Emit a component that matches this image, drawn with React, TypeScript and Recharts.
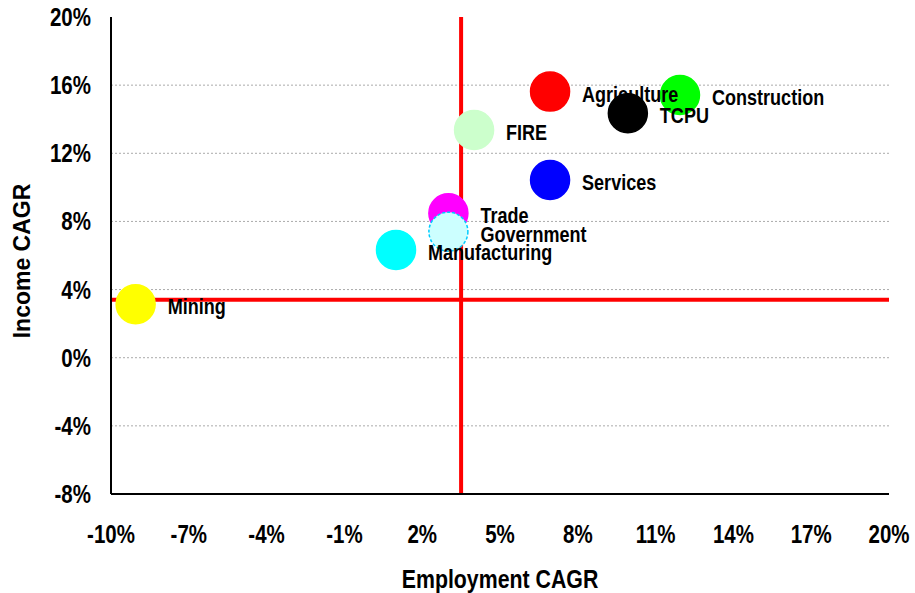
import React from "react"
import { ScatterChart, Scatter, XAxis, YAxis, CartesianGrid, ReferenceLine, LabelList, Cell } from "recharts"

const sectors = ["Mining", "Manufacturing", "Trade", "Government", "FIRE", "Services", "Agriculture", "TCPU", "Construction"]
const employmentCagr = [-9.05, 0.99, 3.01, 3.01, 4.0, 6.93, 6.93, 9.93, 11.94]
const incomeCagr = [3.14, 6.33, 8.48, 7.4, 13.37, 10.43, 15.62, 14.35, 15.42]
const fills = ["#FFFF00", "#00FFFF", "#FF00FF", "#CCFFFF", "#CCFFCC", "#0000FF", "#FF0000", "#000000", "#00FF00"]
const strokes = ["#FFFF00", "#00FFFF", "#FF00FF", "#00CCFF", "#CCFFCC", "#0000FF", "#FF0000", "#000000", "#00FF00"]

const xTicks = [-10, -7, -4, -1, 2, 5, 8, 11, 14, 17, 20]
const yTicks = [-8, -4, 0, 4, 8, 12, 16, 20]
const employmentMean = 3.5
const incomeMean = 3.4

const font = "'Liberation Sans', Arial, sans-serif"
// the original uses a narrow bold face; squeeze Liberation Sans to get close
const squeeze = "scale(0.82,1)"

const data = sectors.map((name, i) => ({
	name,
	x: employmentCagr[i],
	y: incomeCagr[i],
}))

const Dot = (props: any) => {
	const { cx, cy, fill, stroke } = props
	return <circle cx={cx} cy={cy} r={19.5} fill={fill} stroke={stroke} strokeWidth={1.5} strokeDasharray={stroke === "#00CCFF" ? "3 2" : undefined} />
}

const PointLabel = (props: any) => {
	const { x, y, width, height, value } = props
	const cx = x + width / 2
	const cy = y + height / 2
	return (
		<g transform={`translate(${cx + 32},${cy + 10})`}>
			<text transform={squeeze} fontFamily={font} fontWeight="bold" fontSize={22} fill="#000">
				{value}
			</text>
		</g>
	)
}

const XTick = (props: any) => {
	const { x, y, payload } = props
	return (
		<g transform={`translate(${x},${y + 49})`}>
			<text transform={squeeze} textAnchor="middle" fontFamily={font} fontWeight="bold" fontSize={25} fill="#000">
				{`${payload.value}%`}
			</text>
		</g>
	)
}

const YTick = (props: any) => {
	const { x, y, payload } = props
	return (
		<g transform={`translate(${x - 20},${y + 9})`}>
			<text transform={squeeze} textAnchor="end" fontFamily={font} fontWeight="bold" fontSize={25} fill="#000">
				{`${payload.value}%`}
			</text>
		</g>
	)
}

const XTitle = () => (
	<g transform="translate(500,588)">
		<text transform={squeeze} textAnchor="middle" fontFamily={font} fontWeight="bold" fontSize={26} fill="#000">
			Employment CAGR
		</text>
	</g>
)

const YTitle = () => (
	<text x={30} y={261} transform="rotate(-90,30,261)" textAnchor="middle" fontFamily={font} fontWeight="bold" fontSize={23} fill="#000">
		Income CAGR
	</text>
)

export default function App() {
	return (
		<div style={{ position: "absolute", left: 0, top: 0, width: 915, height: 593, background: "#fff" }}>
			<ScatterChart width={915} height={593} margin={{ top: 17, right: 26, left: 0, bottom: 0 }}>
				<CartesianGrid vertical={false} horizontalValues={[-4, 0, 4, 8, 12, 16]} stroke="#aaaaaa" strokeDasharray="2 2" />
				<XAxis
					type="number"
					dataKey="x"
					domain={[-10, 20]}
					ticks={xTicks}
					axisLine={{ stroke: "#000", strokeWidth: 2 }}
					tickLine={false}
					tickSize={0}
					tickMargin={0}
					tick={<XTick />}
					height={99}
					label={<XTitle />}
				/>
				<XAxis xAxisId="top" type="number" dataKey="x" orientation="top" domain={[-10, 20]} tick={false} tickLine={false} axisLine={{ stroke: "#000", strokeWidth: 2 }} height={0} />
				<YAxis
					type="number"
					dataKey="y"
					domain={[-8, 20]}
					ticks={yTicks}
					axisLine={{ stroke: "#000", strokeWidth: 2 }}
					tickLine={false}
					tickSize={0}
					tickMargin={0}
					tick={<YTick />}
					width={111}
					label={<YTitle />}
				/>
				<YAxis yAxisId="right" type="number" dataKey="y" orientation="right" domain={[-8, 20]} tick={false} tickLine={false} axisLine={{ stroke: "#000", strokeWidth: 2 }} width={0} />
				<ReferenceLine x={employmentMean} stroke="#FF0000" strokeWidth={4} />
				<ReferenceLine y={incomeMean} stroke="#FF0000" strokeWidth={4} />
				<Scatter data={data} shape={<Dot />} isAnimationActive={false}>
					{data.map((d, i) => (
						<Cell key={d.name} fill={fills[i]} stroke={strokes[i]} />
					))}
					<LabelList dataKey="name" content={<PointLabel />} />
				</Scatter>
			</ScatterChart>
		</div>
	)
}
